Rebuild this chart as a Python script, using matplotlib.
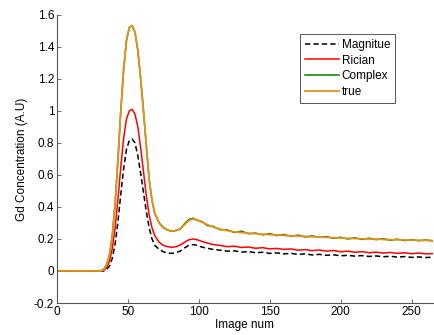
import matplotlib
matplotlib.use("Agg")
import matplotlib.pyplot as plt
from matplotlib.ticker import FuncFormatter

plt.rcParams['font.family'] = ['Liberation Sans', 'DejaVu Sans']

# numero de imagen (muestras)
img_num = [0, 31, 33, 35, 37, 39, 41, 43, 45, 47,
           49, 51, 53, 55, 57, 59, 61, 63, 65, 67,
           69, 72, 75, 78, 81, 84, 87, 90, 93, 96,
           99, 102, 106, 110, 115, 120, 125, 130, 135, 140,
           145, 150, 155, 160, 165, 170, 175, 180, 185, 190,
           195, 200, 205, 210, 215, 220, 225, 230, 235, 240,
           245, 250, 255, 260, 265]

magnitude = [0, 0, 0.0, 0.01, 0.03, 0.08, 0.17, 0.31, 0.48, 0.64,
             0.76, 0.815, 0.825, 0.8, 0.72, 0.61, 0.49, 0.37, 0.27, 0.2,
             0.16, 0.135, 0.12, 0.112, 0.11, 0.115, 0.125, 0.145, 0.16, 0.165,
             0.16, 0.15, 0.142, 0.135, 0.13, 0.124, 0.126, 0.118, 0.121, 0.114,
             0.117, 0.11, 0.113, 0.107, 0.11, 0.104, 0.107, 0.1, 0.104, 0.098,
             0.101, 0.095, 0.098, 0.093, 0.096, 0.091, 0.094, 0.089, 0.092, 0.087,
             0.09, 0.085, 0.088, 0.084, 0.086]

rician = [0, 0, 0.005, 0.02, 0.06, 0.14, 0.27, 0.45, 0.65, 0.83,
          0.95, 1.0, 1.01, 0.98, 0.9, 0.77, 0.62, 0.47, 0.35, 0.27,
          0.22, 0.18, 0.16, 0.152, 0.148, 0.152, 0.162, 0.18, 0.195, 0.2,
          0.195, 0.185, 0.175, 0.165, 0.16, 0.152, 0.155, 0.147, 0.15, 0.142,
          0.146, 0.138, 0.141, 0.135, 0.138, 0.13, 0.134, 0.127, 0.131, 0.124,
          0.128, 0.12, 0.124, 0.117, 0.121, 0.114, 0.118, 0.112, 0.116, 0.11,
          0.114, 0.108, 0.112, 0.107, 0.109]

complex_ = [0, 0, 0.012, 0.038, 0.102, 0.222, 0.422, 0.698, 1.003, 1.258,
            1.442, 1.522, 1.532, 1.492, 1.378, 1.202, 0.998, 0.782, 0.572, 0.442,
            0.356, 0.302, 0.272, 0.256, 0.248, 0.254, 0.262, 0.296, 0.322, 0.33,
            0.316, 0.31, 0.284, 0.279, 0.258, 0.257, 0.241, 0.249, 0.233, 0.237,
            0.226, 0.234, 0.221, 0.228, 0.217, 0.224, 0.213, 0.219, 0.21, 0.215,
            0.204, 0.211, 0.2, 0.208, 0.197, 0.205, 0.196, 0.202, 0.192, 0.199,
            0.19, 0.196, 0.189, 0.194, 0.188]

true_ = [0, 0, 0.01, 0.04, 0.1, 0.22, 0.42, 0.7, 1.0, 1.26,
         1.44, 1.52, 1.535, 1.49, 1.38, 1.2, 1.0, 0.78, 0.57, 0.44,
         0.36, 0.3, 0.27, 0.255, 0.25, 0.252, 0.265, 0.29, 0.315, 0.325,
         0.32, 0.305, 0.29, 0.275, 0.262, 0.252, 0.245, 0.24, 0.236, 0.233,
         0.23, 0.227, 0.225, 0.222, 0.22, 0.218, 0.216, 0.214, 0.212, 0.21,
         0.208, 0.206, 0.204, 0.203, 0.201, 0.2, 0.199, 0.197, 0.196, 0.195,
         0.194, 0.193, 0.192, 0.191, 0.19]

fig = plt.figure(figsize=(4.35, 3.35), dpi=100)
ax = fig.add_axes([0.131, 0.0955, 0.864, 0.86])

ax.plot(img_num, magnitude, color='k', linestyle=(0, (3.5, 2)), linewidth=1.1, label='Magnitue')
ax.plot(img_num, rician, color='#ff0000', linewidth=1.1, label='Rician')
ax.plot(img_num, complex_, color='#008000', linewidth=1.1, label='Complex')
ax.plot(img_num, true_, color='#e8901a', linewidth=1.3, label='true')

ax.set_xlim(0, 265)
ax.set_ylim(-0.2, 1.6)
ax.set_xticks([0, 50, 100, 150, 200, 250])
ax.set_yticks([-0.2, 0, 0.2, 0.4, 0.6, 0.8, 1.0, 1.2, 1.4, 1.6])
ax.yaxis.set_major_formatter(FuncFormatter(lambda v, p: f"{v:g}"))

for s in ['top', 'right']:
    ax.spines[s].set_visible(False)
for s in ['left', 'bottom']:
    ax.spines[s].set_color('#555555')
    ax.spines[s].set_linewidth(0.8)
ax.tick_params(direction='in', length=3, width=0.6, color='#555555', labelsize=8.5, pad=2)

ax.set_xlabel("Image num", fontsize=8.5, labelpad=1)
ax.set_ylabel("Gd Concentration (A.U)", fontsize=8.5, labelpad=4)

leg = ax.legend(loc='upper left', bbox_to_anchor=(0.63, 0.955), fontsize=8.5,
                fancybox=False, framealpha=1, edgecolor='#555555',
                handlelength=2.9, handletextpad=0.2, borderpad=0.45, labelspacing=0.3)
leg.get_frame().set_linewidth(0.7)

fig.savefig("out.png", dpi=100)
